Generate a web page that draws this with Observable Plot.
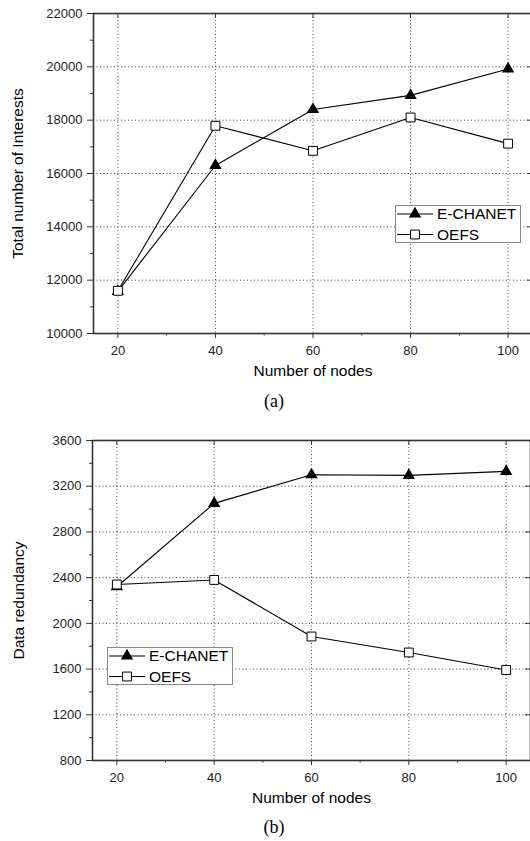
<!DOCTYPE html>
<html>
<head>
<meta charset="utf-8">
<script src="https://cdn.jsdelivr.net/npm/d3@7"></script>
<script src="https://cdn.jsdelivr.net/npm/@observablehq/plot@0.6"></script>
<style>
  body { margin: 0; background: #fff; }
  #page { position: relative; width: 530px; height: 841px; overflow: hidden;
          font-family: "Liberation Sans", Arial, sans-serif; color: #000; }
  .panel { position: absolute; left: 0; width: 532px; }
  .caption { position: absolute; transform: translate(-50%, -50%);
             font-family: "Liberation Serif", "Times New Roman", serif; font-size: 18px; }
  .legend { position: absolute; background: #fff; border: 1px solid #888; box-sizing: border-box; }
  .legend svg { display: block; overflow: visible; }
  .legend text { font-family: "Liberation Sans", Arial, sans-serif; font-size: 15.5px; fill: #000; }
</style>
</head>
<body>
<div id="page"></div>
<script>
// Number of nodes in the network (x axis)
const nodes = [20, 40, 60, 80, 100];
const nodeMinorTicks = [30, 50, 70, 90];

// (a) Total number of Interests
const interestsEchanet = [11580, 16300, 18400, 18930, 19920];
const interestsOefs = [11600, 17790, 16850, 18100, 17120];
const interestsTicks = [10000, 12000, 14000, 16000, 18000, 20000, 22000];
const interestsMinorTicks = [11000, 13000, 15000, 17000, 19000, 21000];

// (b) Data redundancy
const redundancyEchanet = [2320, 3050, 3300, 3295, 3330];
const redundancyOefs = [2340, 2380, 1885, 1745, 1592];
const redundancyTicks = [800, 1200, 1600, 2000, 2400, 2800, 3200, 3600];
const redundancyMinorTicks = [1000, 1400, 1800, 2200, 2600, 3000, 3400];

const seriesNames = ["E-CHANET", "OEFS"];
const xLabel = "Number of nodes";

const ink = "#333";
const page = d3.select("#page");

function panel({top, width, height, marginLeft, marginTop, marginBottom,
                yTicks, yMinor, echanet, oefs, yLabel, yLabelDx}) {
  const rows = nodes.map((n, i) => ({n, e: echanet[i], o: oefs[i]}));
  const plotW = width - marginLeft;
  const plotH = height - marginTop - marginBottom;
  const grid = {stroke: "#000", strokeOpacity: 0.75, strokeDasharray: "1,2.5", strokeWidth: 1};
  const chart = Plot.plot({
    width, height, marginLeft, marginRight: 0, marginTop, marginBottom,
    x: {domain: [15, 105]},
    y: {domain: [yTicks[0], yTicks[yTicks.length - 1]]},
    style: {fontFamily: "'Liberation Sans', Arial, sans-serif", fontSize: "13px",
            color: "#222", background: "transparent", maxWidth: "none", overflow: "visible"},
    marks: [
      Plot.gridX(nodes, grid),
      Plot.gridY(yTicks.slice(1, -1), grid),
      Plot.axisX(nodes, {tickSize: 5, tickPadding: 7, tickFormat: d => String(d), label: null, stroke: ink}),
      Plot.axisX(nodeMinorTicks, {tickSize: 2.5, tickFormat: () => "", label: null, stroke: ink}),
      Plot.axisY(yTicks, {tickSize: 6, tickPadding: 5, tickFormat: d => String(d), label: null, stroke: ink}),
      Plot.axisY(yMinor, {tickSize: 3, tickFormat: () => "", label: null, stroke: ink}),
      // inward ticks on the top and right edges
      Plot.tickX(nodes, {x: d => d, insetBottom: plotH - 5, stroke: ink}),
      Plot.tickY(yTicks, {y: d => d, insetLeft: plotW - 5, stroke: ink}),
      Plot.frame({stroke: ink, strokeWidth: 1.6}),
      Plot.line(rows, {x: "n", y: "e", stroke: "#000", strokeWidth: 1.1}),
      Plot.line(rows, {x: "n", y: "o", stroke: "#000", strokeWidth: 1.1}),
      Plot.dot(rows, {x: "n", y: "e", symbol: "triangle", r: 4.6, fill: "#000", stroke: "none"}),
      Plot.dot(rows, {x: "n", y: "o", symbol: "square", r: 5, fill: "#fff", stroke: "#000", strokeWidth: 1}),
      Plot.text([yLabel], {text: d => d, frameAnchor: "left", textAnchor: "middle", rotate: -90,
                           dx: yLabelDx, fontSize: 15.5, fill: "#000"}),
      Plot.text([xLabel], {text: d => d, frameAnchor: "bottom", textAnchor: "middle", dy: 42,
                           fontSize: 15.5, fill: "#000"})
    ]
  });
  page.append("div").attr("class", "panel").style("top", top + "px").node().appendChild(chart);
}

function legend(left, top) {
  const div = page.append("div").attr("class", "legend")
    .style("left", left + "px").style("top", top + "px")
    .style("width", "126px").style("height", "38px");
  const svg = div.append("svg").attr("width", 124).attr("height", 36);
  seriesNames.forEach((name, i) => {
    const g = svg.append("g").attr("transform", `translate(0,${8 + i * 20.5})`);
    g.append("line").attr("x1", 1).attr("x2", 37).attr("stroke", "#000").attr("stroke-width", 1.1);
    g.append("path")
      .attr("d", d3.symbol(i ? d3.symbolSquare : d3.symbolTriangle, i ? Math.PI * 25 : Math.PI * 4.6 * 4.6)())
      .attr("transform", "translate(19,0)")
      .attr("fill", i ? "#fff" : "#000")
      .attr("stroke", i ? "#000" : "none");
    g.append("text").attr("x", 41).attr("dy", "0.35em").text(name);
  });
}

function caption(text, x, y) {
  page.append("div").attr("class", "caption")
    .style("left", x + "px").style("top", y + "px").text(text);
}

panel({top: 0, width: 532, height: 390, marginLeft: 93, marginTop: 13, marginBottom: 57,
       yTicks: interestsTicks, yMinor: interestsMinorTicks,
       echanet: interestsEchanet, oefs: interestsOefs,
       yLabel: "Total number of Interests", yLabelDx: -75});
legend(395, 205);
caption("(a)", 274, 401);

panel({top: 420, width: 530, height: 390, marginLeft: 92, marginTop: 20, marginBottom: 50,
       yTicks: redundancyTicks, yMinor: redundancyMinorTicks,
       echanet: redundancyEchanet, oefs: redundancyOefs,
       yLabel: "Data redundancy", yLabelDx: -73});
legend(107, 647);
caption("(b)", 274, 827);
</script>
</body>
</html>
